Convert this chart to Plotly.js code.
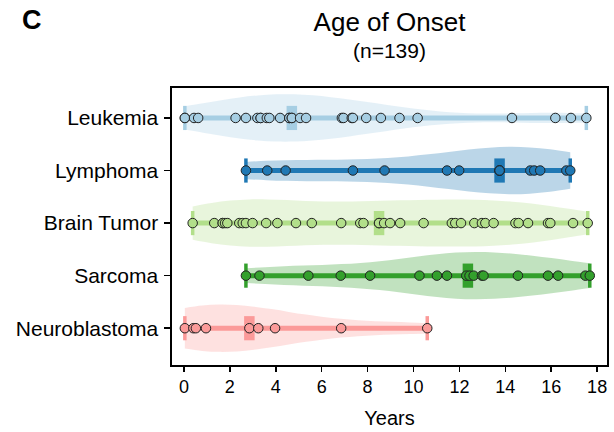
<!DOCTYPE html>
<html>
<head>
<meta charset="utf-8">
<script src="https://cdn.plot.ly/plotly-3.0.1.min.js"></script>
<style>
  html, body { margin: 0; padding: 0; background: #fff; }
  #chart { width: 614px; height: 432px; }
</style>
</head>
<body>
<div id="chart"></div>
<script>
// ---- data (years at onset) ----
const categories = ["Leukemia", "Lymphoma", "Brain Tumor", "Sarcoma", "Neuroblastoma"];

const leukemia = [0.04, 0.04, 0.44, 0.62, 2.25, 2.70, 3.20, 3.34, 3.34, 3.61, 3.72, 4.19, 4.59, 4.59,
                  4.70, 4.70, 5.06, 5.32, 6.88, 6.95, 7.31, 7.36, 7.94, 8.58, 9.39, 10.18, 14.29, 16.18,
                  16.86, 17.53];
const lymphoma = [2.70, 3.63, 4.43, 7.36, 8.74, 11.46, 11.99, 13.75, 13.75, 13.75, 15.09, 15.26, 15.52,
                  16.66, 16.83];
const brainTumor = [0.38, 1.32, 1.69, 1.69, 1.79, 1.89, 2.41, 2.56, 2.70, 2.99, 3.58, 4.07, 4.88, 5.57,
                    6.85, 7.68, 7.82, 8.50, 8.50, 8.72, 8.98, 9.42, 10.44, 11.67, 11.82, 12.07, 12.65,
                    12.98, 13.13, 13.49, 14.44, 14.58, 14.99, 15.86, 15.96, 16.95, 17.59];
const sarcoma = [2.70, 3.29, 5.42, 6.83, 8.11, 10.26, 11.02, 11.46, 12.30, 12.44, 12.62, 12.98, 13.05,
                 14.55, 15.86, 16.30, 17.49, 17.68];
const neuroblastoma = [0.04, 0.41, 0.52, 0.96, 2.85, 3.24, 3.97, 6.85, 10.60];

const seriesValues = [leukemia, lymphoma, brainTumor, sarcoma, neuroblastoma];
const xTickValues = [0, 2, 4, 6, 8, 10, 12, 14, 16, 18];

const colors = ["#a6cee3", "#1f78b4", "#b2df8a", "#33a02c", "#fb9a99"];

// ---- helpers ----
function hexToRgba(hex, a) {
  const n = parseInt(hex.slice(1), 16);
  return `rgba(${(n >> 16) & 255},${(n >> 8) & 255},${n & 255},${a})`;
}
function median(arr) {
  const s = arr.slice().sort((a, b) => a - b);
  const m = Math.floor(s.length / 2);
  return s.length % 2 ? s[m] : (s[m - 1] + s[m]) / 2;
}
function scottBandwidth(arr) {
  const n = arr.length;
  const mean = arr.reduce((a, b) => a + b, 0) / n;
  const v = arr.reduce((a, b) => a + (b - mean) * (b - mean), 0) / (n - 1);
  return Math.sqrt(v) * Math.pow(n, -0.2);
}

const FONT = "Liberation Sans, Arial, Helvetica, sans-serif";
const HALF = 0.23;   // half-height of caps / median bar (in category units)

const violins = [];
const overlays = [];

seriesValues.forEach((vals, i) => {
  const c = colors[i];
  const lo = Math.min(...vals), hi = Math.max(...vals), med = median(vals);

  violins.push({
    type: "violin", orientation: "h", name: categories[i],
    x: vals, y0: i,
    width: 0.9, scalemode: "width", spanmode: "hard",
    bandwidth: scottBandwidth(vals),
    points: false, box: { visible: false }, meanline: { visible: false },
    line: { width: 0, color: hexToRgba(c, 0) },
    fillcolor: hexToRgba(c, 0.3),
    hoverinfo: "skip", showlegend: false
  });

  // min–max line
  overlays.push({
    type: "scatter", mode: "lines", x: [lo, hi], y: [i, i],
    line: { color: c, width: 5 }, hoverinfo: "skip", showlegend: false
  });
  // end caps
  overlays.push({
    type: "scatter", mode: "lines",
    x: [lo, lo, null, hi, hi], y: [i - HALF, i + HALF, null, i - HALF, i + HALF],
    line: { color: c, width: 3.5 }, hoverinfo: "skip", showlegend: false
  });
  // median bar
  overlays.push({
    type: "scatter", mode: "lines", x: [med, med], y: [i - HALF, i + HALF],
    line: { color: c, width: 10.5 }, hoverinfo: "skip", showlegend: false
  });
  // individual points
  overlays.push({
    type: "scatter", mode: "markers", name: categories[i],
    x: vals, y: vals.map(() => i),
    marker: { color: c, size: 9.5, line: { color: "#222", width: 1 } },
    showlegend: false
  });
});

const layout = {
  width: 614, height: 432,
  margin: { l: 172, r: 7, t: 88, b: 67 },
  paper_bgcolor: "#fff", plot_bgcolor: "#fff",
  font: { family: FONT, color: "#000" },
  violinmode: "overlay",
  showlegend: false,
  title: {
    text: "Age of Onset",
    font: { family: FONT, size: 26, color: "#000" },
    x: 0.5, xref: "paper", xanchor: "center",
    y: 1 - 22 / 432, yref: "container", yanchor: "middle"
  },
  xaxis: {
    range: [-0.52, 18.43],
    tickmode: "array", tickvals: xTickValues, ticktext: xTickValues.map(String),
    ticks: "outside", ticklen: 5, tickwidth: 1.5, tickcolor: "#000",
    tickfont: { family: FONT, size: 18, color: "#000" },
    showline: true, mirror: true, linecolor: "#000", linewidth: 1.6,
    showgrid: false, zeroline: false,
    title: { text: "Years", font: { family: FONT, size: 20, color: "#000" }, standoff: 15 }
  },
  yaxis: {
    range: [4.7, -0.57],
    tickmode: "array", tickvals: categories.map((_, i) => i), ticktext: categories,
    ticks: "outside", ticklen: 6, tickwidth: 1.5, tickcolor: "#000",
    tickfont: { family: FONT, size: 21, color: "#000" },
    ticklabelstandoff: 2,
    showline: true, mirror: true, linecolor: "#000", linewidth: 1.6,
    showgrid: false, zeroline: false
  },
  annotations: [
    {
      text: "(n=139)", xref: "paper", yref: "paper", x: 0.5, y: (365 - 50) / 277,
      xanchor: "center", yanchor: "middle", showarrow: false,
      font: { family: FONT, size: 21, color: "#000" }
    },
    {
      text: "<b>C</b>", xref: "paper", yref: "paper", x: (32 - 172) / 435, y: (365 - 20) / 277,
      xanchor: "center", yanchor: "middle", showarrow: false,
      font: { family: FONT, size: 27, color: "#000" }
    }
  ]
};

Plotly.newPlot("chart", violins.concat(overlays), layout, { displayModeBar: false, staticPlot: true });
</script>
</body>
</html>
